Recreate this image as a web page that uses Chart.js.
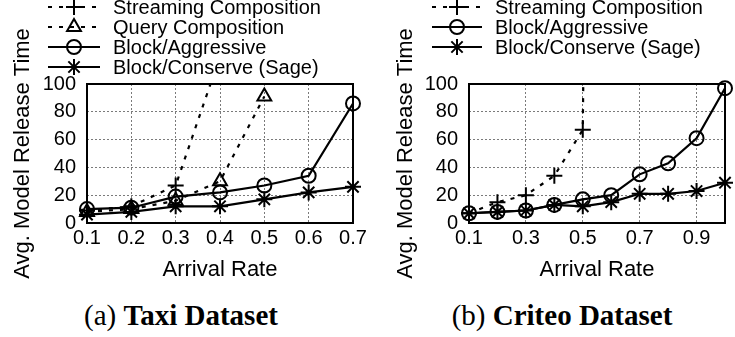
<!DOCTYPE html>
<html lang="en">
<head>
  <meta charset="UTF-8" />
  <title>Avg. Model Release Time vs Arrival Rate</title>
  <script src="https://cdn.jsdelivr.net/npm/chart.js"></script>
  <style>
    html, body { margin: 0; padding: 0; background: #fff; }
    body { width: 735px; height: 337px; position: relative; overflow: hidden; }
    .panel { position: absolute; top: 0; height: 295px; }
    .caption {
      position: absolute; top: 302px; width: 300px; text-align: center;
      font-family: "Liberation Serif", "Times New Roman", serif; font-size: 29px; line-height: 27px; color: #000;
    }
  </style>
</head>
<body>

<div class="panel" style="left:0; width:370px;"><canvas id="taxi" width="370" height="295"></canvas></div>
<div class="panel" style="left:370px; width:365px;"><canvas id="criteo" width="365" height="295"></canvas></div>
<div class="caption" style="left:31px;">(a) <b>Taxi Dataset</b></div>
<div class="caption" style="left:412px;">(b) <b>Criteo Dataset</b></div>

<script>
// Taxi dataset
const taxiRates = [0.1, 0.2, 0.3, 0.4, 0.5, 0.6, 0.7];
const taxiStreaming = [9, 12, 27, 120];
const taxiQuery = [8, 10, 16, 30, 91];
const taxiAggressive = [10, 11, 19, 22, 27, 34, 86];
const taxiSage = [6, 8, 12, 12, 17, 22, 26];
const taxiTicks = [0.1, 0.2, 0.3, 0.4, 0.5, 0.6, 0.7];

// Criteo dataset
const criteoRates = [0.1, 0.2, 0.3, 0.4, 0.5, 0.6, 0.7, 0.8, 0.9, 1.0];
const criteoStreaming = [7, 15, 20, 34, 67, 2000];
const criteoAggressive = [7, 8, 9, 13, 17, 20, 35, 43, 61, 97];
const criteoSage = [7, 8, 9, 13, 12, 15, 21, 21, 23, 29];
const criteoTicks = [0.1, 0.3, 0.5, 0.7, 0.9];

const yTicks = [0, 20, 40, 60, 80, 100];

const SANS = '"Liberation Sans", Arial, Helvetica, sans-serif';

const styles = {
  'Streaming Composition': { pointStyle: 'cross', borderDash: [4, 7], radius: 8 },
  'Query Composition': { pointStyle: 'triangle', borderDash: [4, 7], radius: 8 },
  'Block/Aggressive': { pointStyle: 'circle', borderDash: [], radius: 7 },
  'Block/Conserve (Sage)': { pointStyle: 'star', borderDash: [], radius: 8 }
};

function series(label, rates, values) {
  const st = styles[label];
  const dashed = st.borderDash.length > 0;
  return {
    label: label,
    data: values.map((v, i) => ({ x: rates[i], y: v })),
    borderColor: '#000',
    backgroundColor: 'rgba(0,0,0,0)',
    borderWidth: 2.2,
    borderDash: st.borderDash,
    pointStyle: st.pointStyle,
    pointRadius: st.radius,
    pointBorderWidth: 2,
    pointBorderColor: '#000',
    pointBackgroundColor: 'rgba(0,0,0,0)',
    tension: 0,
    fill: false,
    clip: dashed ? { left: 12, right: 12, top: 0, bottom: 12 } : 14
  };
}

// frame round the plot area + legend in the top padding
const framePlugin = {
  id: 'frame',
  beforeDatasetsDraw(chart) {
    const a = chart.chartArea, ctx = chart.ctx;
    ctx.save();
    ctx.strokeStyle = '#000';
    ctx.lineWidth = 2;
    ctx.strokeRect(a.left, a.top, a.right - a.left, a.bottom - a.top);
    ctx.restore();
  },
  afterDraw(chart, args, opts) {
    const ctx = chart.ctx;
    ctx.save();
    chart.data.datasets.forEach((ds, i) => {
      const y = opts.rows[i];
      ctx.strokeStyle = '#000';
      ctx.lineWidth = 2.2;
      ctx.setLineDash(ds.borderDash);
      ctx.beginPath();
      ctx.moveTo(opts.x0, y);
      ctx.lineTo(opts.x1, y);
      ctx.stroke();
      ctx.setLineDash([]);
      ctx.fillStyle = 'rgba(0,0,0,0)';
      ctx.lineWidth = 2;
      Chart.helpers.drawPoint(ctx, {
        pointStyle: ds.pointStyle, radius: ds.pointRadius, borderWidth: 2, rotation: 0
      }, (opts.x0 + opts.x1) / 2, y);
      ctx.fillStyle = '#000';
      ctx.font = '20px ' + SANS;
      ctx.textBaseline = 'middle';
      ctx.textAlign = 'left';
      ctx.fillText(ds.label, opts.tx, y + 1);
    });
    ctx.restore();
  }
};

function makeChart(id, datasets, xMin, xMax, xTicks, cfg) {
  return new Chart(document.getElementById(id), {
    type: 'line',
    data: { datasets: datasets },
    plugins: [framePlugin],
    options: {
      responsive: false,
      animation: false,
      layout: { padding: { top: cfg.top, right: cfg.right, bottom: 0, left: 0 } },
      plugins: {
        legend: { display: false },
        tooltip: { enabled: false },
        frame: cfg.legend
      },
      scales: {
        x: {
          type: 'linear',
          min: xMin,
          max: xMax,
          afterBuildTicks: s => { s.ticks = xTicks.map(v => ({ value: v })); },
          afterFit: s => { s.height = 72; },
          grid: { color: '#7a7a7a', lineWidth: 1, drawTicks: false },
          border: { display: false, dash: [2, 2] },
          ticks: { color: '#000', padding: 3, font: { family: SANS, size: 20 }, maxRotation: 0,
                   callback: v => v.toFixed(1) },
          title: { display: true, text: 'Arrival Rate', color: '#000',
                   font: { family: SANS, size: 22 }, padding: { top: 0, bottom: 12 } }
        },
        y: {
          type: 'linear',
          min: 0,
          max: 100,
          afterBuildTicks: s => { s.ticks = yTicks.map(v => ({ value: v })); },
          afterFit: s => { s.width = cfg.left; },
          grid: { color: '#7a7a7a', lineWidth: 1, drawTicks: false },
          border: { display: false, dash: [2, 2] },
          ticks: { color: '#000', padding: 11, font: { family: SANS, size: 20 } },
          title: { display: true, text: 'Avg. Model Release Time', color: '#000',
                   font: { family: SANS, size: 22 }, padding: { top: cfg.titlePad, bottom: 0 } }
        }
      }
    }
  });
}

makeChart('taxi', [
  series('Streaming Composition', taxiRates, taxiStreaming),
  series('Query Composition', taxiRates, taxiQuery),
  series('Block/Aggressive', taxiRates, taxiAggressive),
  series('Block/Conserve (Sage)', taxiRates, taxiSage)
], 0.1, 0.7, taxiTicks, {
  top: 84, right: 17, left: 87, titlePad: 10,
  legend: { rows: [7, 27, 47, 67], x0: 48, x1: 100, tx: 113 }
});

makeChart('criteo', [
  series('Streaming Composition', criteoRates, criteoStreaming),
  series('Block/Aggressive', criteoRates, criteoAggressive),
  series('Block/Conserve (Sage)', criteoRates, criteoSage)
], 0.1, 1.0, criteoTicks, {
  top: 84, right: 1, left: 99, titlePad: 23,
  legend: { rows: [7, 27, 47], x0: 62, x1: 112, tx: 125 }
});
</script>

</body>
</html>
